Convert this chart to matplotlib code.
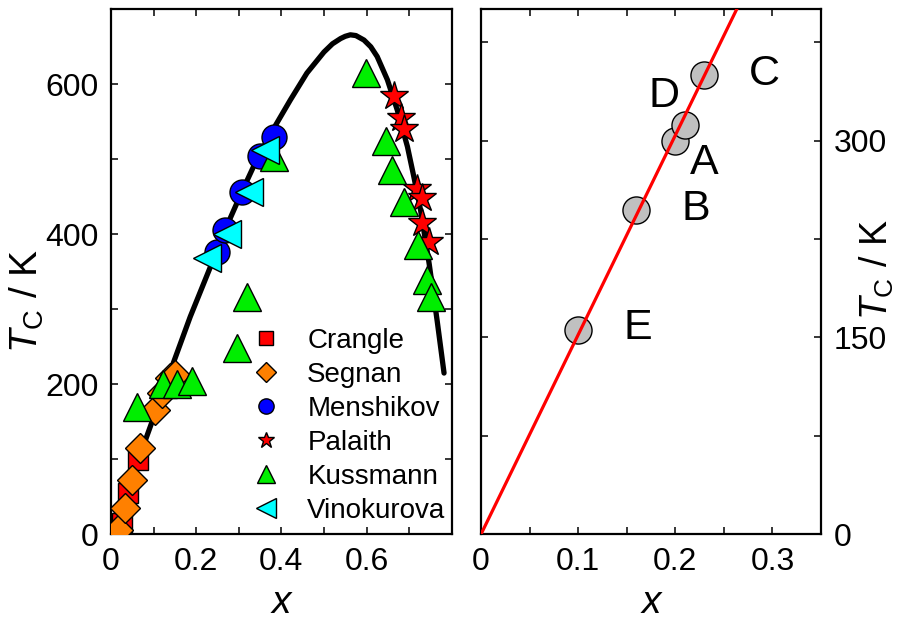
import matplotlib
matplotlib.use('Agg')
import matplotlib.pyplot as plt
from matplotlib.lines import Line2D

plt.rcParams['font.family'] = ['Liberation Sans', 'DejaVu Sans']
plt.rcParams['mathtext.fontset'] = 'custom'
plt.rcParams['mathtext.rm'] = 'Liberation Sans'
plt.rcParams['mathtext.it'] = 'Liberation Sans:italic'
plt.rcParams['mathtext.bf'] = 'Liberation Sans:bold'

# ---------------- data ----------------
curve_x = [0.01, 0.05, 0.09, 0.139, 0.186, 0.233, 0.268, 0.3075, 0.345, 0.386,
           0.421, 0.46, 0.50, 0.52, 0.539, 0.55, 0.562, 0.575, 0.594, 0.61,
           0.625, 0.649, 0.672, 0.696, 0.711, 0.727, 0.747, 0.766, 0.782]
curve_y = [14, 77, 140, 217, 290, 356, 406, 457, 503, 545,
           579, 615, 643, 654, 661, 664, 666, 665, 659, 650,
           637, 606, 566, 517, 477, 432, 361, 284, 215]

crangle_x = [0.025, 0.041, 0.064]
crangle_y = [15, 55, 99]
segnan_x = [0.017, 0.033, 0.049, 0.068, 0.104, 0.119, 0.139, 0.150]
segnan_y = [6, 35, 72, 115, 166, 188, 208, 212]
menshikov_x = [0.249, 0.268, 0.3075, 0.35, 0.382]
menshikov_y = [377, 406, 457, 505, 530]
palaith_x = [0.664, 0.680, 0.688, 0.719, 0.731, 0.731, 0.747]
palaith_y = [584, 555, 541, 461, 448, 415, 390]
kussmann_x = [0.060, 0.123, 0.155, 0.190, 0.297, 0.319, 0.382,
              0.598, 0.645, 0.660, 0.689, 0.721, 0.743, 0.751]
kussmann_y = [170, 201, 201, 205, 248, 317, 503,
              615, 524, 486, 443, 386, 339, 317]
vinokurova_x = [0.225, 0.272, 0.323, 0.362]
vinokurova_y = [368, 401, 457, 512]

sample_labels = ['A', 'B', 'E', 'D', 'C']
sample_x = [0.200, 0.160, 0.100, 0.210, 0.230]
sample_y = [300, 247, 156, 312, 350]
fit_x = [0.0, 0.2632]
fit_y = [0.0, 400.0]

left_xticks = [0, 0.2, 0.4, 0.6]
left_xticklabels = ['0', '0.2', '0.4', '0.6']
left_yticks = [0, 200, 400, 600]
left_yticklabels = ['0', '200', '400', '600']
right_xticks = [0, 0.1, 0.2, 0.3]
right_xticklabels = ['0', '0.1', '0.2', '0.3']
right_yticks = [0, 150, 300]
right_yticklabels = ['0', '150', '300']

# ---------------- figure ----------------
fig = plt.figure(figsize=(9.12, 6.21), dpi=100)
ax1 = fig.add_axes([0.1217, 0.1396, 0.3736, 0.8454])
ax2 = fig.add_axes([0.5274, 0.1396, 0.3728, 0.8454])

ek = dict(markeredgecolor='black', markeredgewidth=1.0, linestyle='none')

ax1.plot(curve_x, curve_y, color='black', lw=3.8, solid_capstyle='round',
         solid_joinstyle='round', zorder=1)
ax1.plot(crangle_x, crangle_y, marker='s', ms=15, color='#ff0000', zorder=2, **ek)
ax1.plot(segnan_x, segnan_y, marker='D', ms=15.5, color='#ff8000', zorder=3, **ek)
ax1.plot(menshikov_x, menshikov_y, marker='o', ms=18, color='#0000ff', zorder=4, **ek)
ax1.plot(palaith_x, palaith_y, marker='*', ms=21, color='#ff0000', zorder=5, **ek)
ax1.plot(kussmann_x, kussmann_y, marker='^', ms=20, color='#00ee00', zorder=6, **ek)
ax1.plot(vinokurova_x, vinokurova_y, marker='<', ms=20, color='#00ffff', zorder=7, **ek)

handles = [
    Line2D([], [], marker='s', ms=9.6, color='#ff0000', **ek),
    Line2D([], [], marker='D', ms=10, color='#ff8000', **ek),
    Line2D([], [], marker='o', ms=11, color='#0000ff', **ek),
    Line2D([], [], marker='*', ms=12, color='#ff0000', **ek),
    Line2D([], [], marker='^', ms=13, color='#00ee00', **ek),
    Line2D([], [], marker='<', ms=14, color='#00ffff', **ek),
]
names = ['Crangle', 'Segnan', 'Menshikov', 'Palaith', 'Kussmann', 'Vinokurova']
ax1.legend(handles, names, loc='lower left', bbox_to_anchor=(0.413, 0.02),
           frameon=False, fontsize=20, handlelength=1.0, handletextpad=1.0,
           labelspacing=0.29, borderpad=0, borderaxespad=0)

ax1.set_xlim(0, 0.8)
ax1.set_ylim(0, 700)
ax1.set_xticks(left_xticks, left_xticklabels)
ax1.set_xticks([0.1, 0.3, 0.5, 0.7], minor=True)
ax1.set_yticks(left_yticks, left_yticklabels)
ax1.set_yticks([100, 300, 500], minor=True)
ax1.tick_params(which='both', direction='in', length=5, width=1.1,
                top=True, right=True, labelsize=23, pad=9)

# right panel
ax2.plot(sample_x, sample_y, marker='o', ms=19.5, color='#c0c0c0', zorder=2, **ek)
ax2.plot(fit_x, fit_y, color='#ff0000', lw=2.3, zorder=3)
label_offsets = {'A': (21, -16), 'B': (43, 1), 'C': (43, 1), 'D': (-15, 21), 'E': (43, 1)}
for lab, xx, yy in zip(sample_labels, sample_x, sample_y):
    ax2.annotate(lab, (xx, yy), xytext=label_offsets[lab], textcoords='offset points',
                 ha='center', va='center', fontsize=31)

ax2.set_xlim(0, 0.35)
ax2.set_ylim(0, 400)
ax2.set_xticks(right_xticks, right_xticklabels)
ax2.set_xticks([0.05, 0.15, 0.25], minor=True)
ax2.set_yticks(right_yticks, right_yticklabels)
ax2.set_yticks([75, 225, 375], minor=True)
ax2.tick_params(which='both', direction='in', length=5, width=1.1,
                top=True, right=True, left=True, labelleft=False, labelright=True,
                labelsize=23, pad=9)

for ax in (ax1, ax2):
    for s in ax.spines.values():
        s.set_linewidth(1.6)

fig.text(27 / 912, 1 - 301 / 621, r'$T_\mathrm{C}$ / K', rotation=90,
         ha='center', va='center', fontsize=28)
fig.text(877 / 912, 1 - 270 / 621, r'$T_\mathrm{C}$ / K', rotation=90,
         ha='center', va='center', fontsize=27)
fig.text(282 / 912, 1 - 603 / 621, r'$x$', ha='center', va='center', fontsize=28)
fig.text(652 / 912, 1 - 603 / 621, r'$x$', ha='center', va='center', fontsize=28)

fig.savefig('out.png', dpi=100)
